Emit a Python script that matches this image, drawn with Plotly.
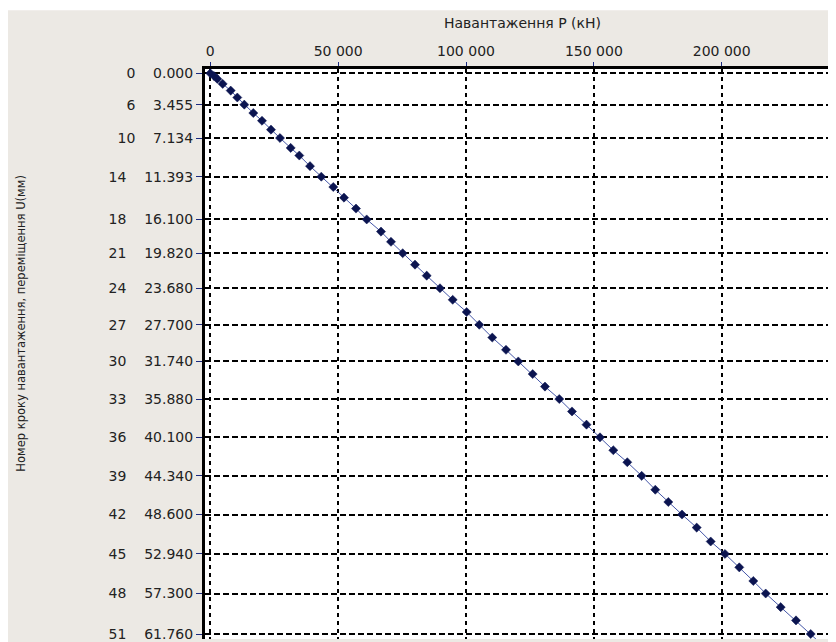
import plotly.graph_objects as go

# ---- data ----
steps = [0, 1, 2, 3, 4, 5, 6, 7, 8, 9, 10, 11, 12, 13, 14, 15, 16, 17, 18, 19, 20,
         21, 22, 23, 24, 25, 26, 27, 28, 29, 30, 31, 32, 33, 34, 35, 36, 37, 38, 39,
         40, 41, 42, 43, 44, 45, 46, 47, 48, 49, 50, 51, 52]
load_kN = [0, 1450, 2740, 4850, 7980, 10560, 13300, 16820, 20220, 23740, 27260,
           31440, 34810, 39000, 43410, 48100, 52290, 56980, 61170, 66760, 70670,
           75240, 80060, 84630, 89830, 94800, 100270, 105200, 110280, 115640, 120450,
           126080, 130890, 136490, 141450, 147130, 152400, 157610, 163080, 168710,
           174030, 179120, 184470, 190220, 195700, 201290, 206880, 212360, 217210,
           223070, 229060, 234810, 240300]
disp_mm = [0.000, 0.30, 0.62, 1.17, 1.91, 2.67, 3.455, 4.38, 5.23, 6.21, 7.134,
           8.22, 9.06, 10.23, 11.393, 12.53, 13.70, 14.90, 16.100, 17.44, 18.56,
           19.820, 21.08, 22.29, 23.680, 24.95, 26.30, 27.700, 29.11, 30.46, 31.740,
           33.13, 34.51, 35.880, 37.25, 38.70, 40.100, 41.52, 42.84, 44.340, 45.87,
           47.22, 48.600, 50.04, 51.57, 52.940, 54.42, 55.92, 57.300, 58.80, 60.26,
           61.760, 63.20]

tick_steps = [0, 6, 10, 14, 18, 21, 24, 27, 30, 33, 36, 39, 42, 45, 48, 51]
tick_disp = [0.000, 3.455, 7.134, 11.393, 16.100, 19.820, 23.680, 27.700, 31.740,
             35.880, 40.100, 44.340, 48.600, 52.940, 57.300, 61.760]
x_tick_vals = [0, 50000, 100000, 150000, 200000]
x_tick_text = ["0", "50 000", "100 000", "150 000", "200 000"]

x_title = "Навантаження P (кН)"
y_title = "Номер кроку навантаження, переміщення U(мм)"

NB = "\u00a0"
y_tick_text = [f"{s}{NB*4}{u:.3f}" for s, u in zip(tick_steps, tick_disp)]

FONT = "DejaVu Sans"
GREY = "#ECE9E4"
OFF = 8                      # page body margin
W, H = 836 - OFF, 642 - OFF  # visible part of the figure
L, T = 205 - OFF, 69 - OFF
PW, PH = W - L, H - T


def px(sx):
    return (sx - OFF - L) / PW


def py(sy):
    return (H - (sy - OFF)) / PH


fig = go.Figure()
fig.add_trace(go.Scatter(
    x=load_kN, y=disp_mm, mode="lines+markers",
    line=dict(color="#4456a8", width=1),
    marker=dict(symbol="diamond", size=7, color="#0b1450",
                line=dict(color="#0b1450", width=0.5)),
    hoverinfo="skip", showlegend=False, cliponaxis=True,
))

fig.update_layout(
    width=W, height=H,
    margin=dict(l=L, r=0, t=T, b=0, pad=0),
    paper_bgcolor=GREY, plot_bgcolor="white",
    font=dict(family=FONT, size=14, color="#222222"),
    showlegend=False,
    xaxis=dict(
        side="top", range=[-2070, 244700], tickvals=x_tick_vals, ticktext=x_tick_text,
        showline=True, linecolor="black", linewidth=3,
        ticks="outside", ticklen=4, tickwidth=1, tickcolor="#1a2a80",
        showgrid=True, gridcolor="black", gridwidth=1.5, griddash="4px,4px",
        zeroline=False, ticklabeloverflow="allow",
        tickfont=dict(family=FONT, size=14, color="#222222"),
    ),
    yaxis=dict(
        range=[62.31, -0.47], tickvals=tick_disp, ticktext=y_tick_text,
        showline=True, linecolor="black", linewidth=3,
        ticks="outside", ticklen=6, tickwidth=1, tickcolor="#1a2a80",
        showgrid=True, gridcolor="black", gridwidth=1.5, griddash="6px,3px",
        zeroline=False, ticklabeloverflow="allow",
        tickfont=dict(family=FONT, size=14, color="#222222"),
    ),
    annotations=[
        dict(text=x_title, xref="paper", yref="paper",
             x=px(522), y=py(23), xanchor="center", yanchor="middle",
             showarrow=False, font=dict(family=FONT, size=14, color="#222222")),
        dict(text=y_title, xref="paper", yref="paper", textangle=-90,
             x=px(21), y=py(325), xanchor="center", yanchor="middle",
             showarrow=False, font=dict(family=FONT, size=11.5, color="#222222")),
    ],
    shapes=[
        dict(type="rect", xref="paper", yref="paper", layer="above",
             x0=px(0), x1=1.05, y0=py(10), y1=py(0),
             fillcolor="white", line=dict(width=0)),
    ],
)

fig.write_html("out.html", config={"displayModeBar": False})
